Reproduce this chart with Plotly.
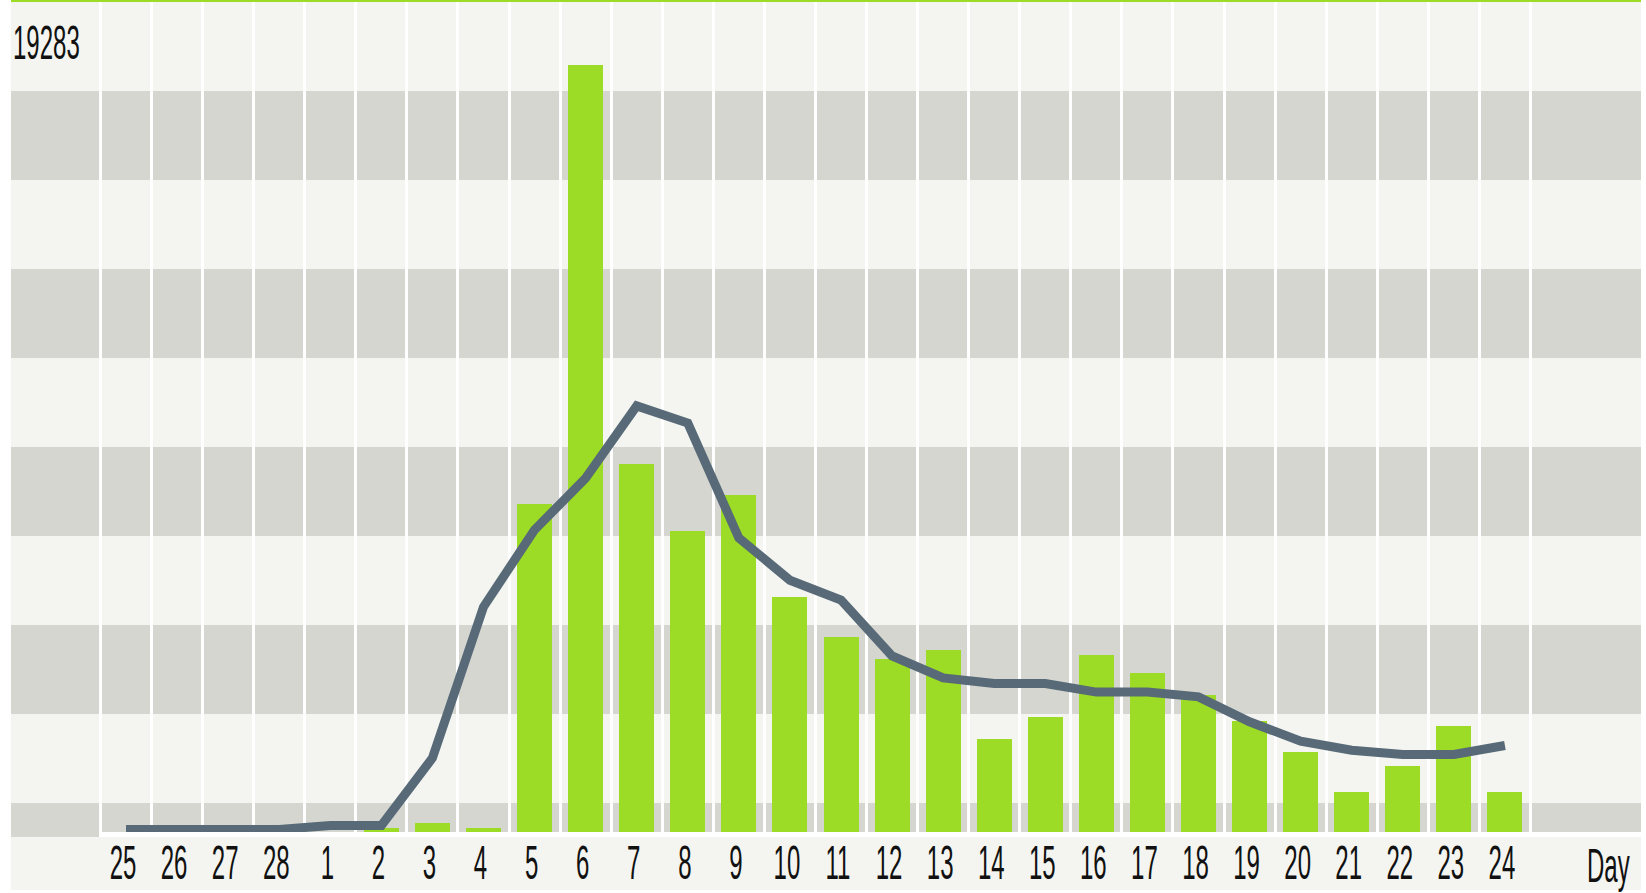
import plotly.graph_objects as go

# ---- data ----
days = ["25", "26", "27", "28", "1", "2", "3", "4", "5", "6", "7", "8", "9", "10",
        "11", "12", "13", "14", "15", "16", "17", "18", "19", "20", "21", "22", "23", "24"]
daily = [0, 0, 0, 0, 0, 95, 210, 95, 7620, 17820, 8550, 6990, 7830, 5460,
         4530, 4020, 4230, 2160, 2670, 4110, 3690, 3180, 2580, 1860, 930, 1530, 2460, 930]
trend = [60, 60, 60, 60, 150, 150, 1720, 5230, 7020, 8220, 9900, 9500, 6830, 5850,
         5390, 4090, 3580, 3450, 3450, 3250, 3250, 3140, 2560, 2110, 1900, 1800, 1800, 2010]
y_max = 19283
x_title = "Day"

# ---- styles ----
GREEN = "#9CDC26"
LINE = "#586A77"
LIGHT = "#F4F5F0"
GRAY = "#D5D6D0"
FONT = "Liberation Sans, Arial, sans-serif"
TXT = "#111111"

W, H = 1646, 893
L, R, T, B = 11, 5, 2, 61
plot_h = H - T - B
plot_w = W - L - R

xs = list(range(len(days)))

fig = go.Figure()
fig.add_trace(go.Bar(x=xs, y=daily, width=0.685, marker=dict(color=GREEN, line=dict(width=0)),
                     hoverinfo="skip"))
fig.add_trace(go.Scatter(x=xs, y=trend, mode="lines", line=dict(color=LINE, width=9),
                         hoverinfo="skip"))

shapes = []
band = 89.0 / plot_h
k = 1
while True:
    top = 1 - k * band
    bot = 1 - (k + 1) * band
    if top <= 0:
        break
    shapes.append(dict(type="rect", xref="paper", yref="paper", x0=0, x1=1,
                       y0=max(bot, 0), y1=top, fillcolor=GRAY, line=dict(width=0), layer="below"))
    k += 2
shapes.append(dict(type="rect", xref="paper", yref="paper", x0=0, x1=(99 - L) / plot_w,
                   y0=-5 / plot_h, y1=0, fillcolor=GRAY, line=dict(width=0), layer="below"))
shapes.append(dict(type="rect", xref="paper", yref="paper", x0=0, x1=1,
                   y0=-58 / plot_h, y1=-5 / plot_h, fillcolor=LIGHT, line=dict(width=0), layer="below"))
shapes.append(dict(type="rect", xref="paper", yref="paper", x0=0, x1=1,
                   y0=1, y1=1 + 2.2 / plot_h, fillcolor=GREEN, line=dict(width=0), layer="above"))

col_px = 51.07
span = plot_w / col_px
r0 = -((100.5 + col_px * 0.5) - L) / col_px


def py(p):
    """pixel row (from top of figure) -> paper y"""
    return (H - B - p) / plot_h


fig.update_layout(
    width=W, height=H,
    margin=dict(l=L, r=R, t=T, b=B, pad=0),
    paper_bgcolor="white", plot_bgcolor=LIGHT,
    showlegend=False,
    bargap=0,
    shapes=shapes,
    xaxis=dict(range=[r0, r0 + span], tickmode="array", tickvals=xs, ticktext=days,
               showgrid=False, zeroline=False, showline=False, ticks="",
               tickfont=dict(family=FONT, size=24, color=TXT),
               ticklabelshift=-3, ticklabelstandoff=14,
               minor=dict(tickmode="array", tickvals=[i - 0.5 for i in range(len(days) + 1)],
                          showgrid=True, gridcolor="white", gridwidth=2.6, ticks=""),
               fixedrange=True),
    yaxis=dict(range=[0, y_max], showgrid=False, zeroline=False, showline=False,
               showticklabels=False, ticks="", fixedrange=True),
    annotations=[
        dict(text=str(y_max), xref="paper", yref="paper", x=0, y=py(43),
             xanchor="left", yanchor="middle", showarrow=False,
             font=dict(family=FONT, size=24, color=TXT)),
        dict(text=x_title, xref="paper", yref="paper", x=(1632 - L) / plot_w, y=py(865),
             xanchor="right", yanchor="middle", showarrow=False,
             font=dict(family=FONT, size=24, color=TXT)),
    ],
)

# the original chart's lettering is tall and narrow: stretch the real text vertically
post = """
document.body.style.margin='0';
document.body.style.overflow='hidden';
document.querySelectorAll('.xtick text, .annotation-text').forEach(function(t){
  var b=t.getBBox(); var cx=b.x+b.width/2, cy=b.y+b.height/2;
  var tr=t.getAttribute('transform')||'';
  t.setAttribute('transform', tr+' translate('+cx+','+cy+') scale(1,2) translate('+(-cx)+','+(-cy)+')');
});
"""

fig.write_html("out.html", config=dict(displayModeBar=False), post_script=post)
